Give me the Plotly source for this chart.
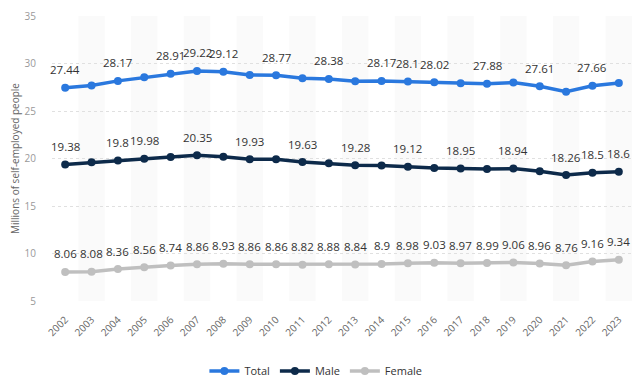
import plotly.graph_objects as go

years = [str(y) for y in range(2002, 2024)]
total = [27.44, 27.68, 28.17, 28.54, 28.91, 29.22, 29.12, 28.79, 28.77, 28.45, 28.38,
         28.12, 28.17, 28.10, 28.02, 27.92, 27.88, 28.00, 27.61, 27.02, 27.66, 27.94]
male = [19.38, 19.60, 19.80, 19.98, 20.17, 20.35, 20.19, 19.93, 19.91, 19.63, 19.50,
        19.28, 19.27, 19.12, 18.99, 18.95, 18.89, 18.94, 18.65, 18.26, 18.50, 18.60]
female = [8.06, 8.08, 8.36, 8.56, 8.74, 8.86, 8.93, 8.86, 8.86, 8.82, 8.88,
          8.84, 8.90, 8.98, 9.03, 8.97, 8.99, 9.06, 8.96, 8.76, 9.16, 9.34]

# which data labels are visible in the reference (1 = shown)
total_labels = [1, 0, 1, 0, 1, 1, 1, 0, 1, 0, 1, 0, 1, 1, 1, 0, 1, 0, 1, 0, 1, 0]
male_labels = [1, 0, 1, 1, 0, 1, 0, 1, 0, 1, 0, 1, 0, 1, 0, 1, 0, 1, 0, 1, 1, 1]
female_labels = [1] * 22

series = [
    ("Total", total, total_labels, "#2a78de"),
    ("Male", male, male_labels, "#0d2a4a"),
    ("Female", female, female_labels, "#bfbfbf"),
]

fig = go.Figure()

# alternating background bands
for i in range(1, len(years), 2):
    fig.add_shape(type="rect", xref="x", yref="paper", x0=i - 0.5, x1=i + 0.5,
                  y0=0, y1=1, fillcolor="#fafafa", line_width=0, layer="below")

annotations = []
for name, vals, show, color in series:
    fig.add_trace(go.Scatter(
        x=list(range(len(years))), y=vals, name=name, mode="lines+markers",
        line=dict(color=color, width=3.5),
        marker=dict(color=color, size=8),
        cliponaxis=False,
    ))
    for i, (v, s) in enumerate(zip(vals, show)):
        if s:
            annotations.append(dict(
                x=i, y=v, xref="x", yref="y", text=f"{v:g}", showarrow=False,
                yshift=18, font=dict(size=11.5, color="#333333", family="Open Sans"),
            ))

# page body has an 8px default margin; figure sized/offset to compensate
fig.update_layout(
    width=632, height=382,
    margin=dict(l=44, r=8, t=8, b=89, autoexpand=False),
    paper_bgcolor="white", plot_bgcolor="white",
    font=dict(family="Open Sans", color="#666666"),
    annotations=annotations,
    showlegend=True,
    legend=dict(orientation="h", x=0.455, xanchor="center", y=-0.246, yanchor="middle",
                font=dict(size=11, color="#333333"), itemwidth=30, traceorder="normal"),
    xaxis=dict(
        range=[-0.5, len(years) - 0.5], tickmode="array",
        tickvals=list(range(len(years))), ticktext=years, tickangle=-45,
        tickfont=dict(size=10, color="#666666"), showgrid=False, zeroline=False,
        showline=False, ticks="", automargin=False, ticklabelstandoff=10,
    ),
    yaxis=dict(
        range=[5, 35], tickvals=[5, 10, 15, 20, 25, 30, 35],
        tickfont=dict(size=10, color="#999999"),
        showgrid=True, gridcolor="#e0e0e0", griddash="dot", gridwidth=1,
        zeroline=False, showline=False, ticks="", ticklabelstandoff=15,
        automargin=False,
        title=dict(text="Millions of self-employed people",
                   font=dict(size=10, color="#666666"), standoff=8),
    ),
)

fig.write_html("out.html")
